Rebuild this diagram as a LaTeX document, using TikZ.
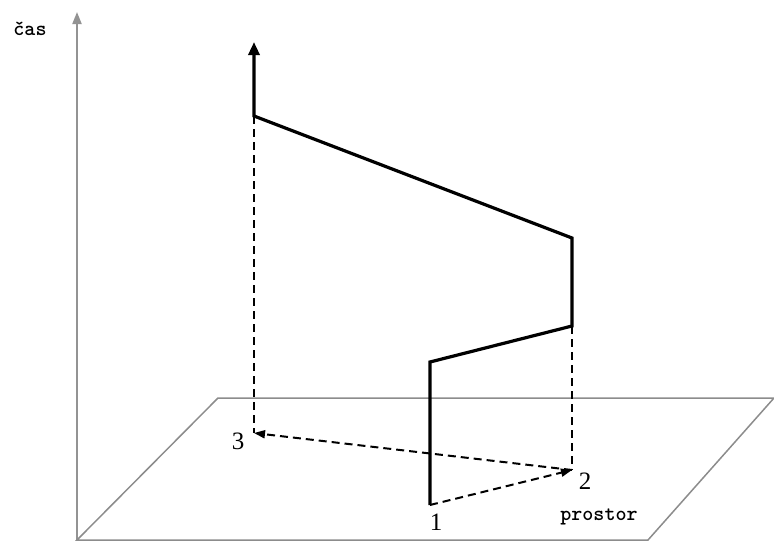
\documentclass[tikz,border=0pt]{standalone}
\usepackage{fontspec}
\setmainfont{Liberation Serif}
\usetikzlibrary{arrows.meta}

\tikzset{
  axis/.style={draw=gray!85, line width=2pt},
  plane/.style={draw=gray!90, line width=1.5pt},
  worldline/.style={draw=black, line width=3.2pt},
  proj/.style={draw=black, line width=2pt, dash pattern=on 8pt off 5pt},
  tip/.style={-{Triangle[length=13pt,width=11pt]}},
  smalltip/.style={-{Triangle[length=11pt,width=8pt]}},
  num/.style={font=\fontsize{25}{25}\selectfont, inner sep=0pt},
  word/.style={font=\ttfamily\bfseries\fontsize{21}{21}\selectfont, inner sep=0pt}
}

\begin{document}
\begin{tikzpicture}[x=1pt,y=-1pt]
\useasboundingbox (0,0) rectangle (774,541);
% time axis and plane of space
\coordinate (O) at (77,540);
\coordinate (T) at (77,12);
\draw[axis, -{Triangle[length=12pt,width=9pt]}] (O) -- (T);
\coordinate (pa) at (648,540);
\coordinate (pb) at (774,398);
\coordinate (pc) at (218,398);
\draw[plane] (O) -- (pa) -- (pb) -- (pc) -- cycle;
% events of the world line
\coordinate (p1) at (430,505);
\coordinate (a) at (430,362);
\coordinate (b) at (572,326);
\coordinate (c) at (572,238);
\coordinate (d) at (254,116);
\coordinate (e) at (254,42);
\coordinate (p2) at (572,470);
\coordinate (p3) at (254,433);
\draw[worldline, tip] (p1) -- (a) -- (b) -- (c) -- (d) -- (e);
% projections onto space
\draw[proj] (b) -- (p2);
\draw[proj] (d) -- (p3);
\draw[proj, smalltip] (p1) -- (p2);
\draw[proj, smalltip] (p2) -- (p3);
% labels
\node[num] (n1) at (436,522) {1};
\node[num] (n2) at (585,481) {2};
\node[num] (n3) at (238,441) {3};
\node[word] (cas) at (30,29) {čas};
\node[word] (prostor) at (599,517) {prostor};
\end{tikzpicture}
\end{document}
